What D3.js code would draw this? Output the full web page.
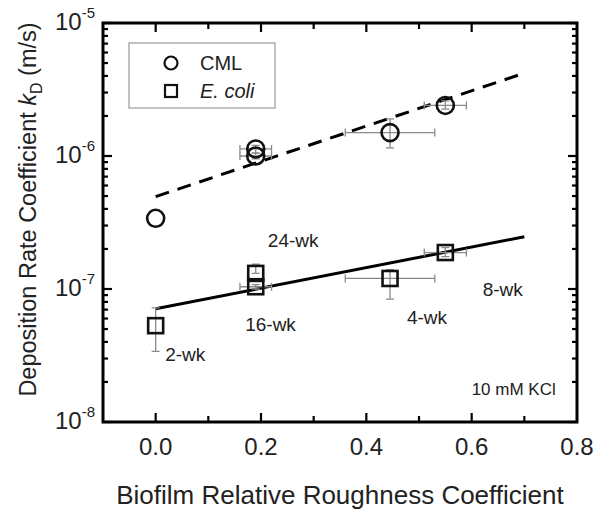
<!DOCTYPE html>
<html>
<head>
<meta charset="utf-8">
<script src="https://cdn.jsdelivr.net/npm/d3@7"></script>
<style>
  body { margin: 0; background: #fff; }
  svg { font-family: "Liberation Sans", Arial, sans-serif; }
  .err { stroke: #8a8a8a; stroke-width: 1.3; fill: none; }
  .mark { fill: none; stroke: #111; stroke-width: 2.6; }
  .frame { fill: none; stroke: #000; stroke-width: 3; }
  .tick { stroke: #000; stroke-width: 2.2; }
</style>
</head>
<body>
<svg width="600" height="515"></svg>
<script>
// CML (circles)
const cmlX = [0.0, 0.19, 0.19, 0.445, 0.55]
const cmlY = [3.4e-7, 1.13e-6, 1.0e-6, 1.5e-6, 2.4e-6]
const cmlXErr = [0, 0.03, 0.03, 0.085, 0.04]
const cmlYLo = [3.4e-7, 1.05e-6, 0.95e-6, 1.15e-6, 2.25e-6]
const cmlYHi = [3.4e-7, 1.2e-6, 1.05e-6, 1.9e-6, 2.6e-6]

// E. coli (squares)
const ecoliX = [0.0, 0.19, 0.19, 0.445, 0.55]
const ecoliY = [5.3e-8, 1.31e-7, 1.04e-7, 1.2e-7, 1.88e-7]
const ecoliXErr = [0, 0.0, 0.03, 0.085, 0.04]
const ecoliYLo = [3.4e-8, 1.31e-7, 1.0e-7, 8.4e-8, 1.75e-7]
const ecoliYHi = [7.2e-8, 1.54e-7, 1.08e-7, 1.4e-7, 2.05e-7]

// fit lines
const cmlFitX = [0.0, 0.70]
const cmlFitY = [4.95e-7, 4.2e-6]
const ecoliFitX = [0.0, 0.70]
const ecoliFitY = [7.1e-8, 2.47e-7]

const xTicks = [0.0, 0.2, 0.4, 0.6, 0.8]
const yTicks = [-8, -7, -6, -5]

const labels = [
  { t: '24-wk', x: 0.213, y: 2.07e-7 },
  { t: '16-wk', x: 0.170, y: 4.83e-8 },
  { t: '2-wk', x: 0.018, y: 2.88e-8 },
  { t: '4-wk', x: 0.477, y: 5.46e-8 },
  { t: '8-wk', x: 0.621, y: 8.86e-8 }
]

const margin = { top: 23, right: 23, bottom: 93, left: 103 }
const width = 600 - margin.left - margin.right
const height = 515 - margin.top - margin.bottom

const svg = d3.select('svg')
const g = svg.append('g').attr('transform', `translate(${margin.left},${margin.top})`)

const x = d3.scaleLinear().domain([-0.1, 0.8]).range([0, width])
const y = d3.scaleLog().domain([1e-8, 1e-5]).range([height, 0])

// minor + major ticks, drawn inward on all four sides
const xMinor = d3.range(-0.1, 0.801, 0.1).map(v => Math.round(v * 10) / 10)
xMinor.forEach(v => {
  const major = Math.abs(Math.round(v * 10) % 2) === 0
  const len = major ? 9 : 6
  if (v <= -0.1 || v >= 0.8) return
  g.append('line').attr('class', 'tick')
    .attr('x1', x(v)).attr('x2', x(v)).attr('y1', height).attr('y2', height - len)
  g.append('line').attr('class', 'tick')
    .attr('x1', x(v)).attr('x2', x(v)).attr('y1', 0).attr('y2', len)
})

const yMinor = []
for (let e = -8; e < -5; e++) {
  for (let m = 2; m <= 9; m++) yMinor.push(m * Math.pow(10, e))
}
yMinor.forEach(v => {
  g.append('line').attr('class', 'tick').attr('stroke-width', 1.8)
    .attr('x1', 0).attr('x2', 5).attr('y1', y(v)).attr('y2', y(v))
  g.append('line').attr('class', 'tick').attr('stroke-width', 1.8)
    .attr('x1', width).attr('x2', width - 5).attr('y1', y(v)).attr('y2', y(v))
})
yTicks.forEach(e => {
  const v = Math.pow(10, e)
  g.append('line').attr('class', 'tick')
    .attr('x1', 0).attr('x2', 9).attr('y1', y(v)).attr('y2', y(v))
  g.append('line').attr('class', 'tick')
    .attr('x1', width).attr('x2', width - 9).attr('y1', y(v)).attr('y2', y(v))
})

g.append('rect').attr('class', 'frame')
  .attr('x', 0).attr('y', 0).attr('width', width).attr('height', height)

// tick labels
g.selectAll('.xl').data(xTicks).enter().append('text')
  .attr('x', d => x(d)).attr('y', height + 33)
  .attr('text-anchor', 'middle').attr('font-size', 24).attr('fill', '#222')
  .text(d => d.toFixed(1))

const yl = g.selectAll('.yl').data(yTicks).enter().append('text')
  .attr('x', -8).attr('y', d => y(Math.pow(10, d)) + 7)
  .attr('text-anchor', 'end').attr('font-size', 24).attr('fill', '#222')
yl.append('tspan').text('10')
yl.append('tspan').attr('dy', -12).attr('font-size', 15).text(d => '-' + Math.abs(d))

// axis titles
svg.append('text')
  .attr('x', margin.left + width / 2).attr('y', 504)
  .attr('text-anchor', 'middle').attr('font-size', 26).attr('fill', '#222')
  .text('Biofilm Relative Roughness Coefficient')

const yt = svg.append('text')
  .attr('transform', `translate(36,${margin.top + height / 2 - 13}) rotate(-90)`)
  .attr('text-anchor', 'middle').attr('font-size', 23.5).attr('fill', '#222')
yt.append('tspan').text('Deposition Rate Coefficient ')
yt.append('tspan').attr('font-style', 'italic').text('k')
yt.append('tspan').attr('font-size', 16).attr('dy', 6).text('D')
yt.append('tspan').attr('dy', -6).text(' (m/s)')

// fit lines
const line = d3.line().x(d => x(d[0])).y(d => y(d[1]))
g.append('path').datum(d3.zip(cmlFitX, cmlFitY))
  .attr('d', line).attr('fill', 'none').attr('stroke', '#000')
  .attr('stroke-width', 3).attr('stroke-dasharray', '14,9')
g.append('path').datum(d3.zip(ecoliFitX, ecoliFitY))
  .attr('d', line).attr('fill', 'none').attr('stroke', '#000')
  .attr('stroke-width', 3)

// error bars
function errorBars(xs, ys, xe, lo, hi) {
  const cap = 4
  xs.forEach((xv, i) => {
    const cy = y(ys[i]), cx = x(xv)
    if (xe[i] > 0) {
      const x0 = x(xv - xe[i]), x1 = x(xv + xe[i])
      g.append('path').attr('class', 'err')
        .attr('d', `M${x0},${cy}H${x1}M${x0},${cy - cap}V${cy + cap}M${x1},${cy - cap}V${cy + cap}`)
    }
    if (hi[i] > lo[i]) {
      const y0 = y(lo[i]), y1 = y(hi[i])
      g.append('path').attr('class', 'err')
        .attr('d', `M${cx},${y0}V${y1}M${cx - cap},${y0}H${cx + cap}M${cx - cap},${y1}H${cx + cap}`)
    }
  })
}
errorBars(cmlX, cmlY, cmlXErr, cmlYLo, cmlYHi)
errorBars(ecoliX, ecoliY, ecoliXErr, ecoliYLo, ecoliYHi)

// markers
g.selectAll('.cml').data(d3.zip(cmlX, cmlY)).enter().append('circle')
  .attr('class', 'mark').attr('cx', d => x(d[0])).attr('cy', d => y(d[1])).attr('r', 8.5)
g.selectAll('.eco').data(d3.zip(ecoliX, ecoliY)).enter().append('rect')
  .attr('class', 'mark')
  .attr('x', d => x(d[0]) - 7.5).attr('y', d => y(d[1]) - 7.5)
  .attr('width', 15).attr('height', 15)

// annotations
g.selectAll('.lab').data(labels).enter().append('text')
  .attr('x', d => x(d.x)).attr('y', d => y(d.y))
  .attr('font-size', 19).attr('fill', '#222')
  .text(d => d.t)
g.append('text').attr('x', x(0.6)).attr('y', y(1.6e-8))
  .attr('font-size', 17).attr('fill', '#222').text('10 mM KCl')

// legend
const leg = svg.append('g')
leg.append('rect').attr('x', 129).attr('y', 43).attr('width', 146).attr('height', 65)
  .attr('fill', '#fff').attr('stroke', '#999').attr('stroke-width', 1.2)
leg.append('circle').attr('cx', 171).attr('cy', 63).attr('r', 6.5)
  .attr('fill', 'none').attr('stroke', '#111').attr('stroke-width', 2.2)
leg.append('rect').attr('x', 165).attr('y', 85).attr('width', 12).attr('height', 12)
  .attr('fill', 'none').attr('stroke', '#111').attr('stroke-width', 2.2)
leg.append('text').attr('x', 200).attr('y', 70).attr('font-size', 20).attr('fill', '#222').text('CML')
leg.append('text').attr('x', 200).attr('y', 98).attr('font-size', 20).attr('fill', '#222')
  .attr('font-style', 'italic').text('E. coli')
</script>
</body>
</html>
